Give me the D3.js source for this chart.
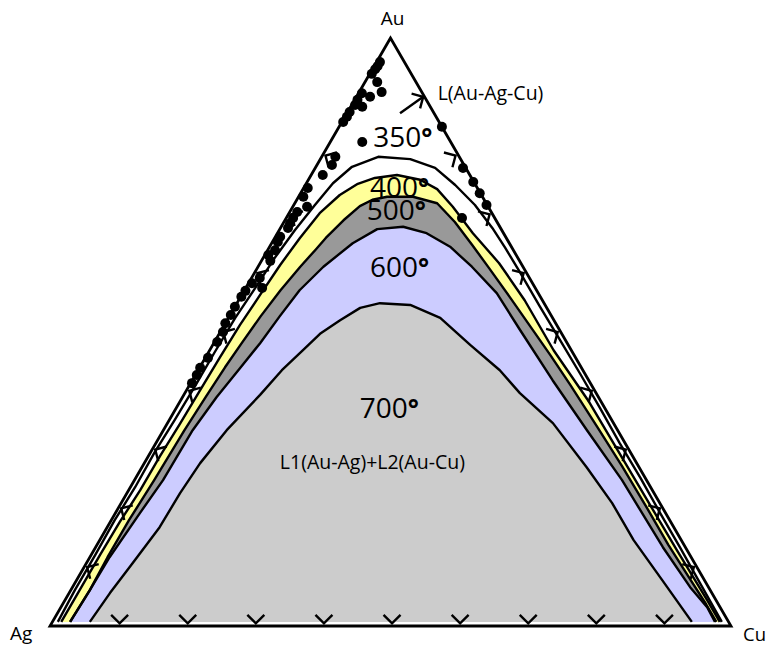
<!DOCTYPE html>
<html>
<head>
<meta charset="utf-8">
<script src="https://cdn.jsdelivr.net/npm/d3@7"></script>
<style>
  html, body { margin: 0; padding: 0; background: #fff; }
  svg { display: block; font-family: "Open Sans", "DejaVu Sans", sans-serif; }
</style>
</head>
<body>
<svg id="chart" width="769" height="647"></svg>
<script>
// Compositions in percent, written as [Au, Cu]; Ag is the remainder.
const isotherm350 = [
  [0.7,0.8],[6.1,0.6],[12.1,0.6],[18.0,0.5],[23.6,0.7],[29.6,0.6],[35.0,0.8],[40.8,0.9],
  [46.6,0.9],[52.4,1.0],[57.5,1.4],[62.6,1.7],[67.3,2.3],[71.6,3.1],[75.3,3.9],[78.1,5.3],
  [79.8,8.3],[79.4,13.2],[77.9,17.6],[75.0,22.0],[71.6,26.6],[67.7,31.1],[64.3,34.7],
  [60.2,38.9],[54.4,44.7],[48.6,50.6],[42.9,56.4],[37.1,62.2],[31.1,68.1],[25.2,74.1],
  [19.2,80.0],[13.3,85.9],[7.3,91.8],[0.7,98.3]
];
const isotherm400 = [
  [0.7,1.3],[6.1,1.3],[12.1,1.3],[17.7,1.4],[23.1,1.7],[28.9,1.7],[34.4,1.9],[40.1,2.0],
  [45.7,2.1],[51.2,2.3],[56.3,2.7],[61.4,3.1],[66.0,3.7],[70.2,4.5],[73.3,5.9],[75.2,7.6],
  [76.2,9.6],[76.7,12.6],[75.9,16.4],[74.3,19.7],[71.3,23.5],[66.8,28.7],[61.7,35.1],
  [55.4,42.0],[46.9,50.5],[38.4,59.8],[29.9,68.4],[21.4,77.0],[12.9,85.6],[4.4,94.3],[0.7,98.0]
];
const isotherm500 = [
  [0.7,2.6],[6.1,2.8],[11.7,2.6],[18.0,2.6],[24.8,2.9],[33.3,3.1],[39.0,3.4],[44.0,3.7],
  [48.1,4.1],[52.7,4.6],[57.1,5.3],[61.1,6.2],[64.0,7.0],[66.0,7.5],[69.0,8.6],[71.4,9.8],
  [72.5,11.1],[73.0,13.0],[73.0,16.8],[71.9,20.9],[68.7,25.1],[64.8,29.6],[60.9,34.0],
  [55.8,39.7],[51.0,45.0],[46.1,50.4],[41.0,55.9],[33.7,63.6],[27.2,70.4],[20.7,77.0],
  [13.8,83.9],[7.5,90.5],[3.7,94.5],[0.7,97.5]
];
const isotherm600 = [
  [0.7,2.6],[6.1,2.8],[11.7,2.9],[19.2,3.6],[24.8,4.2],[33.3,4.3],[38.9,5.0],[43.9,6.0],
  [48.1,6.8],[52.7,7.4],[57.1,8.1],[61.1,9.6],[65.1,11.9],[67.5,14.3],[67.9,17.9],[66.8,21.9],
  [64.5,26.5],[61.1,31.4],[56.6,37.3],[50.3,43.9],[41.8,52.9],[33.3,62.2],[24.8,71.6],
  [13.4,83.3],[6.6,90.7],[3.2,94.9],[0.7,97.3]
];
const isotherm700 = [
  [0.7,5.5],[5.6,6.0],[10.7,6.8],[16.8,7.7],[22.6,7.8],[27.7,8.2],[33.3,9.3],[39.3,11.2],
  [43.5,12.3],[46.9,13.7],[49.7,14.8],[52.0,16.6],[54.1,18.5],[54.9,21.0],[54.6,25.6],
  [52.4,31.1],[47.8,37.8],[43.5,44.3],[39.6,49.2],[34.5,56.6],[27.0,65.3],[20.9,72.1],
  [14.6,78.4],[7.8,86.0],[0.7,93.9]
];
const alloyPoints = [
  [95.9,0.5],[95.2,0.5],[94.7,0.4],[93.9,0.3],[92.5,1.8],[90.8,3.3],[90.6,0.5],[90.0,2.0],
  [89.5,0.4],[88.6,0.5],[88.3,1.7],[87.4,0.3],[86.6,0.3],[85.7,0.2],[82.3,4.7],[79.8,2.0],
  [78.4,2.2],[76.7,1.7],[74.5,0.6],[73.0,0.7],[71.3,2.1],[70.4,1.1],[69.4,1.0],[68.5,1.0],
  [67.7,1.1],[66.2,0.7],[65.3,0.8],[63.9,1.1],[63.1,0.5],[62.1,1.3],[59.2,1.2],[58.3,0.5],
  [57.5,2.4],[57.0,0.2],[56.0,0.1],[54.3,0.0],[52.9,0.1],[51.5,0.0],[50.0,0.4],[48.3,0.4],
  [45.6,0.4],[43.9,0.1],[42.7,0.2],[41.3,0.2],
  [84.9,15.1],[77.9,21.7],[75.5,24.4],[73.6,26.3],[71.6,28.3],[69.4,25.8]
];
// Tie marks along the binaries (Au % on the Ag-Au and Au-Cu sides, Cu % on Ag-Cu)
const marksAgAu = [10,20,30,40,50,60,70,80];
const marksAuCu = [10,20,30,40,50,60,70,80];
const marksAgCu = [10,20,30,40,50,60,70,80,90];
const liquidMark = [90];          // Au % of the arrowed point on Au-Cu
const liquidLeader = [87.2, 7.8]; // [Au, Cu] start of its leader line
const cornerNames = ["Au", "Ag", "Cu"];
const isothermNames = ["350", "400", "500", "600", "700"];
const regionNames = ["L(Au-Ag-Cu)", "L1(Au-Ag)+L2(Au-Cu)"];

const svg = d3.select("#chart");

// Ternary projection: horizontal position from Cu + Au/2, vertical from Au
const x = d3.scaleLinear().domain([0, 100]).range([50, 731]);
const y = d3.scaleLinear().domain([0, 100]).range([626, 38]);
const P = d => [x(d[1] + d[0] / 2), y(d[0])];

const line = d3.line().x(d => P(d)[0]).y(d => P(d)[1]);
const area = pts => line(pts) + "Z";

const AU = P([100, 0]), AG = P([0, 0]), CU = P([0, 100]);

// Nested isotherm fields, outermost first
const fields = [
  { pts: isotherm400, fill: "#ffff99" },
  { pts: isotherm500, fill: "#999999" },
  { pts: isotherm600, fill: "#ccccff" },
  { pts: isotherm700, fill: "#cccccc" }
];
const gF = svg.append("g");
fields.forEach(f => {
  gF.append("path").attr("d", area(f.pts)).attr("fill", f.fill).attr("stroke", "none");
});
[isotherm350, isotherm400, isotherm500, isotherm600, isotherm700].forEach(pts => {
  gF.append("path").attr("d", line(pts)).attr("fill", "none")
    .attr("stroke", "#000").attr("stroke-width", 2.4).attr("stroke-linejoin", "round");
});

// Triangle frame
svg.append("path")
  .attr("d", `M${AU}L${AG}L${CU}Z`)
  .attr("fill", "none").attr("stroke", "#000").attr("stroke-width", 2.8)
  .attr("stroke-linejoin", "miter");

// Chevron tie marks pointing out of the triangle
function inwardNormal(a, b, c) {
  const dx = b[0] - a[0], dy = b[1] - a[1];
  const len = Math.hypot(dx, dy);
  let n = [-dy / len, dx / len];
  const mx = (a[0] + b[0]) / 2, my = (a[1] + b[1]) / 2;
  if (n[0] * (c[0] - mx) + n[1] * (c[1] - my) < 0) n = [-n[0], -n[1]];
  return n;
}
function chevron(tip, n, len) {
  const r = t => [n[0] * Math.cos(t) - n[1] * Math.sin(t), n[0] * Math.sin(t) + n[1] * Math.cos(t)];
  const a = r(Math.PI / 4), b = r(-Math.PI / 4);
  return `M${tip[0] + a[0] * len},${tip[1] + a[1] * len}L${tip[0]},${tip[1]}L${tip[0] + b[0] * len},${tip[1] + b[1] * len}`;
}
const nLeft = inwardNormal(AG, AU, CU);
const nRight = inwardNormal(AU, CU, AG);
const nBottom = inwardNormal(AG, CU, AU);
const gM = svg.append("g").attr("fill", "none").attr("stroke", "#000")
  .attr("stroke-width", 2.4).attr("stroke-linecap", "butt");
marksAgAu.forEach(a => gM.append("path").attr("d", chevron(P([a, 0.45]), nLeft, 12)));
marksAuCu.forEach(a => gM.append("path").attr("d", chevron(P([a, 100 - a - 0.45]), nRight, 12)));
marksAgCu.forEach(c => gM.append("path").attr("d", chevron(P([0.45, c]), nBottom, 12)));
liquidMark.forEach(a => {
  const tip = P([a, 100 - a - 0.2]);
  gM.append("path").attr("d", chevron(tip, nRight, 12));
  gM.append("path").attr("d", `M${P(liquidLeader)}L${tip}`);
});

// Alloy compositions
svg.append("g").selectAll("circle").data(alloyPoints).join("circle")
  .attr("cx", d => P(d)[0]).attr("cy", d => P(d)[1]).attr("r", 5).attr("fill", "#000");

// Corner labels
const gT = svg.append("g").attr("fill", "#000");
gT.append("text").attr("x", AU[0] + 2).attr("y", 25).attr("text-anchor", "middle")
  .attr("font-size", 19).text(cornerNames[0]);
gT.append("text").attr("x", 10).attr("y", 640).attr("font-size", 19).text(cornerNames[1]);
gT.append("text").attr("x", 766).attr("y", 641).attr("text-anchor", "end")
  .attr("font-size", 18.5).text(cornerNames[2]);

// Isotherm labels, anchored at compositions inside each field
const isoAnchors = [[81.5, 6.7], [72.96, 10.5], [69.05, 12.0], [59.35, 17.3], [35.37, 27.8]];
isothermNames.forEach((t, i) => {
  const p = P(isoAnchors[i]);
  const tx = gT.append("text").attr("x", p[0]).attr("y", p[1]).attr("font-size", 28);
  tx.append("tspan").text(t);
  tx.append("tspan").attr("font-weight", 700).attr("font-size", 26).text("°");
});
const lp = P([89.46, 12.2]);
gT.append("text").attr("x", lp[0]).attr("y", lp[1]).attr("font-size", 19.5).text(regionNames[0]);
const rp = P([26.7, 20.4]);
gT.append("text").attr("x", rp[0]).attr("y", rp[1]).attr("font-size", 19.5).text(regionNames[1]);
</script>
</body>
</html>
